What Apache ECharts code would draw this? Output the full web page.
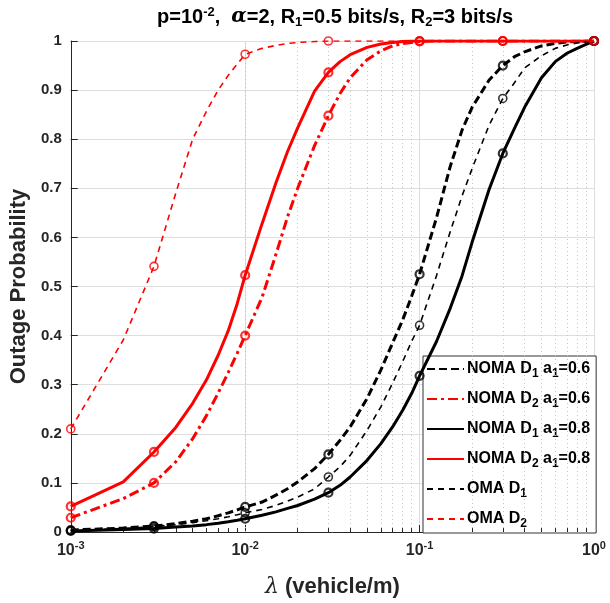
<!DOCTYPE html>
<html><head><meta charset="utf-8">
<script src="https://cdn.jsdelivr.net/npm/echarts@6/dist/echarts.min.js"></script>
<style>html,body{margin:0;padding:0;background:#fff}#c{width:610px;height:603px}</style>
</head><body><div id="c"></div>
<script>
// ---- data ----
const lambda = [0.001,0.002,0.003,0.004,0.005,0.006,0.007,0.008,0.009,
  0.01,0.0125,0.015,0.0175,0.02,0.025,0.03,0.035,0.04,0.05,0.06,0.07,0.08,0.09,
  0.1,0.125,0.15,0.175,0.2,0.25,0.3,0.35,0.4,0.5,0.6,0.7,0.8,0.9,1.0];
const markerLambda = [0.001,0.003,0.01,0.03,0.1,0.3,1.0];

const nomaD1a06 = [0.004,0.008,0.012,0.017,0.022,0.027,0.033,0.039,0.045,
  0.051,0.061,0.075,0.088,0.102,0.129,0.158,0.187,0.214,0.272,0.33,0.385,0.432,0.48,
  0.525,0.64,0.745,0.818,0.865,0.92,0.95,0.968,0.978,0.99,0.995,0.998,0.999,1.0,1.0];
const nomaD2a06 = [0.029,0.068,0.100,0.143,0.190,0.237,0.283,0.325,0.364,
  0.400,0.478,0.565,0.642,0.700,0.787,0.848,0.893,0.925,0.962,0.980,0.990,0.995,0.997,
  0.999,1,1,1,1,1,1,1,1,1,1,1,1,1,1];
const nomaD1a08 = [0.002,0.005,0.007,0.010,0.012,0.015,0.018,0.021,0.024,
  0.027,0.034,0.041,0.048,0.054,0.067,0.080,0.095,0.112,0.146,0.180,0.214,0.248,0.282,
  0.318,0.388,0.456,0.521,0.590,0.697,0.771,0.822,0.865,0.925,0.958,0.975,0.985,0.993,1.0];
const nomaD2a08 = [0.052,0.102,0.163,0.213,0.262,0.310,0.360,0.410,0.465,
  0.523,0.628,0.711,0.775,0.823,0.898,0.936,0.958,0.972,0.987,0.994,0.997,0.999,1.0,
  1,1,1,1,1,1,1,1,1,1,1,1,1,1,1];
const omaD1 = [0.003,0.007,0.011,0.015,0.019,0.023,0.027,0.031,0.035,
  0.039,0.046,0.054,0.063,0.071,0.088,0.112,0.133,0.156,0.207,0.255,0.303,0.347,0.388,
  0.421,0.522,0.612,0.684,0.740,0.828,0.883,0.915,0.945,0.970,0.985,0.992,0.996,0.998,1.0];
const omaD2 = [0.210,0.391,0.541,0.690,0.800,0.857,0.900,0.930,0.953,
  0.973,0.985,0.991,0.995,0.997,0.999,1,1,1,1,1,1,1,1,
  1,1,1,1,1,1,1,1,1,1,1,1,1,1,1];

const seriesNames = ['NOMA D1 a1=0.6','NOMA D2 a1=0.6','NOMA D1 a1=0.8','NOMA D2 a1=0.8','OMA D1','OMA D2'];
const legendLabels = {
  'NOMA D1 a1=0.6':'{t|NOMA D}{s|1}{t| a}{s|1}{t|=0.6}',
  'NOMA D2 a1=0.6':'{t|NOMA D}{s|2}{t| a}{s|1}{t|=0.6}',
  'NOMA D1 a1=0.8':'{t|NOMA D}{s|1}{t| a}{s|1}{t|=0.8}',
  'NOMA D2 a1=0.8':'{t|NOMA D}{s|2}{t| a}{s|1}{t|=0.8}',
  'OMA D1':'{t|OMA D}{s|1}',
  'OMA D2':'{t|OMA D}{s|2}'
};
const minorMultipliers = [2,3,4,5,6,7,8,9];
const decades = [0.001,0.01,0.1];

// ---- styling ----
const FONT = '"Liberation Sans", Arial, Helvetica, sans-serif';
const TXT = '#262626';
const styles = [
  {data: nomaD1a06, color:'#000', width:3, type:[8,4], mw:2.2},
  {data: nomaD2a06, color:'#ff0000', width:3, type:[10,4,3,4], mw:2.2},
  {data: nomaD1a08, color:'#000', width:3, type:'solid', mw:2.2},
  {data: nomaD2a08, color:'#ff0000', width:3, type:'solid', mw:2.2},
  {data: omaD1, color:'#000', width:1.6, type:[6,5], mw:1.6},
  {data: omaD2, color:'#ff0000', width:1.6, type:[6,5], mw:1.6}
];

const minorVals = [];
decades.forEach(d => minorMultipliers.forEach(m => minorVals.push(+(d*m).toPrecision(3))));

const series = [];
series.push({
  type:'line', data:[], z:1, silent:true,
  markLine:{
    silent:true, symbol:['none','none'], label:{show:false}, animation:false,
    lineStyle:{type:[1,3], color:'#c4c4c4', width:1},
    emphasis:{disabled:true},
    data: minorVals.map(v => ({xAxis:v}))
  }
});
series.push({
  type:'line', data:[], z:3, silent:true,
  markLine:{
    silent:true, symbol:['none','none'], label:{show:false}, animation:false,
    lineStyle:{type:'solid', color:TXT, width:1},
    emphasis:{disabled:true},
    data: minorVals.map(v => [{coord:[v,0]},{coord:[v,0.008]}])
  }
});
seriesNames.forEach((name, k) => {
  const st = styles[k];
  series.push({
    type:'line', name, z:5+k, showSymbol:false, symbol:'none', animation:false,
    data: lambda.map((x,i) => [x, st.data[i]]),
    lineStyle:{color:st.color, width:st.width, type:st.type},
    itemStyle:{color:st.color},
    emphasis:{disabled:true}
  });
  series.push({
    type:'scatter', name: name + ' markers', z:5+k, animation:false, silent:true,
    symbol:'circle', symbolSize:8,
    data: lambda.map((x,i) => [x, st.data[i]]).filter(p => markerLambda.includes(p[0])),
    itemStyle:{color:'transparent', borderColor:st.color, borderWidth:st.mw}
  });
});

const chart = echarts.init(document.getElementById('c'), null, {renderer:'canvas'});
chart.setOption({
  backgroundColor:'#fff',
  animation:false,
  textStyle:{fontFamily:FONT},
  title:{
    text:'{n|p=10}{sup|-2}{n|,  }{it|α}{n|=2, R}{sub|1}{n|=0.5 bits/s, R}{sub|2}{n|=3 bits/s}',
    left:330, top:0, textAlign:'center',
    textStyle:{
      rich:{
        n:{fontSize:20, fontWeight:'bold', color:'#000', fontFamily:FONT},
        it:{fontSize:20, fontStyle:'italic', color:'#000', fontFamily:'"DejaVu Serif", serif'},
        sup:{fontSize:13, fontWeight:'bold', color:'#000', fontFamily:FONT, padding:[0,0,10,0]},
        sub:{fontSize:13, fontWeight:'bold', color:'#000', fontFamily:FONT, padding:[11,0,0,0]}
      }
    }
  },
  grid:{left:67, right:16, top:41, bottom:71},
  legend:{
    data: seriesNames,
    orient:'vertical', left:423, top:356,
    itemWidth:37, itemHeight:14, itemGap:11,
    padding:[5,6,3,3],
    backgroundColor:'#fff', borderColor:'#333', borderWidth:1,
    itemStyle:{opacity:0, borderWidth:0},
    formatter: name => legendLabels[name],
    textStyle:{
      padding:[0,0,0,-2],
      rich:{
        t:{fontSize:16, fontWeight:'bold', color:'#000', fontFamily:FONT},
        s:{fontSize:12, fontWeight:'bold', color:'#000', fontFamily:FONT, padding:[10,0,0,0]}
      }
    },
    selectedMode:false
  },
  xAxis:{
    type:'log', logBase:10, min:0.001, max:1,
    axisLine:{show:true, onZero:false, lineStyle:{color:TXT, width:1}},
    axisTick:{show:true, inside:true, length:7, lineStyle:{color:TXT}},
    splitLine:{show:true, lineStyle:{color:'#dedede', width:1}},
    axisLabel:{
      margin:8,
      formatter: v => '{b|10}{s|' + Math.round(Math.log10(v)) + '}',
      rich:{
        b:{fontSize:16, fontWeight:'bold', color:TXT, fontFamily:FONT},
        s:{fontSize:11, fontWeight:'bold', color:TXT, fontFamily:FONT, padding:[0,0,10,0]}
      }
    },
    name:'{it|λ}{n| (vehicle/m)}', nameLocation:'middle', nameGap:44,
    nameTextStyle:{
      rich:{
        it:{fontSize:22, fontStyle:'italic', color:TXT, fontFamily:'"DejaVu Serif", serif'},
        n:{fontSize:22, fontWeight:'bold', color:TXT, fontFamily:FONT}
      }
    }
  },
  yAxis:{
    type:'value', min:0, max:1, interval:0.1,
    axisLine:{show:true, lineStyle:{color:TXT, width:1}},
    axisTick:{show:true, inside:true, length:7, lineStyle:{color:TXT}},
    splitLine:{show:true, lineStyle:{color:'#dedede', width:1}},
    axisLabel:{fontSize:15, fontWeight:'bold', color:TXT, margin:9, fontFamily:FONT},
    name:'Outage Probability', nameLocation:'middle', nameGap:34,
    nameTextStyle:{fontSize:22, fontWeight:'bold', color:TXT, fontFamily:FONT}
  },
  series
});
</script></body></html>
